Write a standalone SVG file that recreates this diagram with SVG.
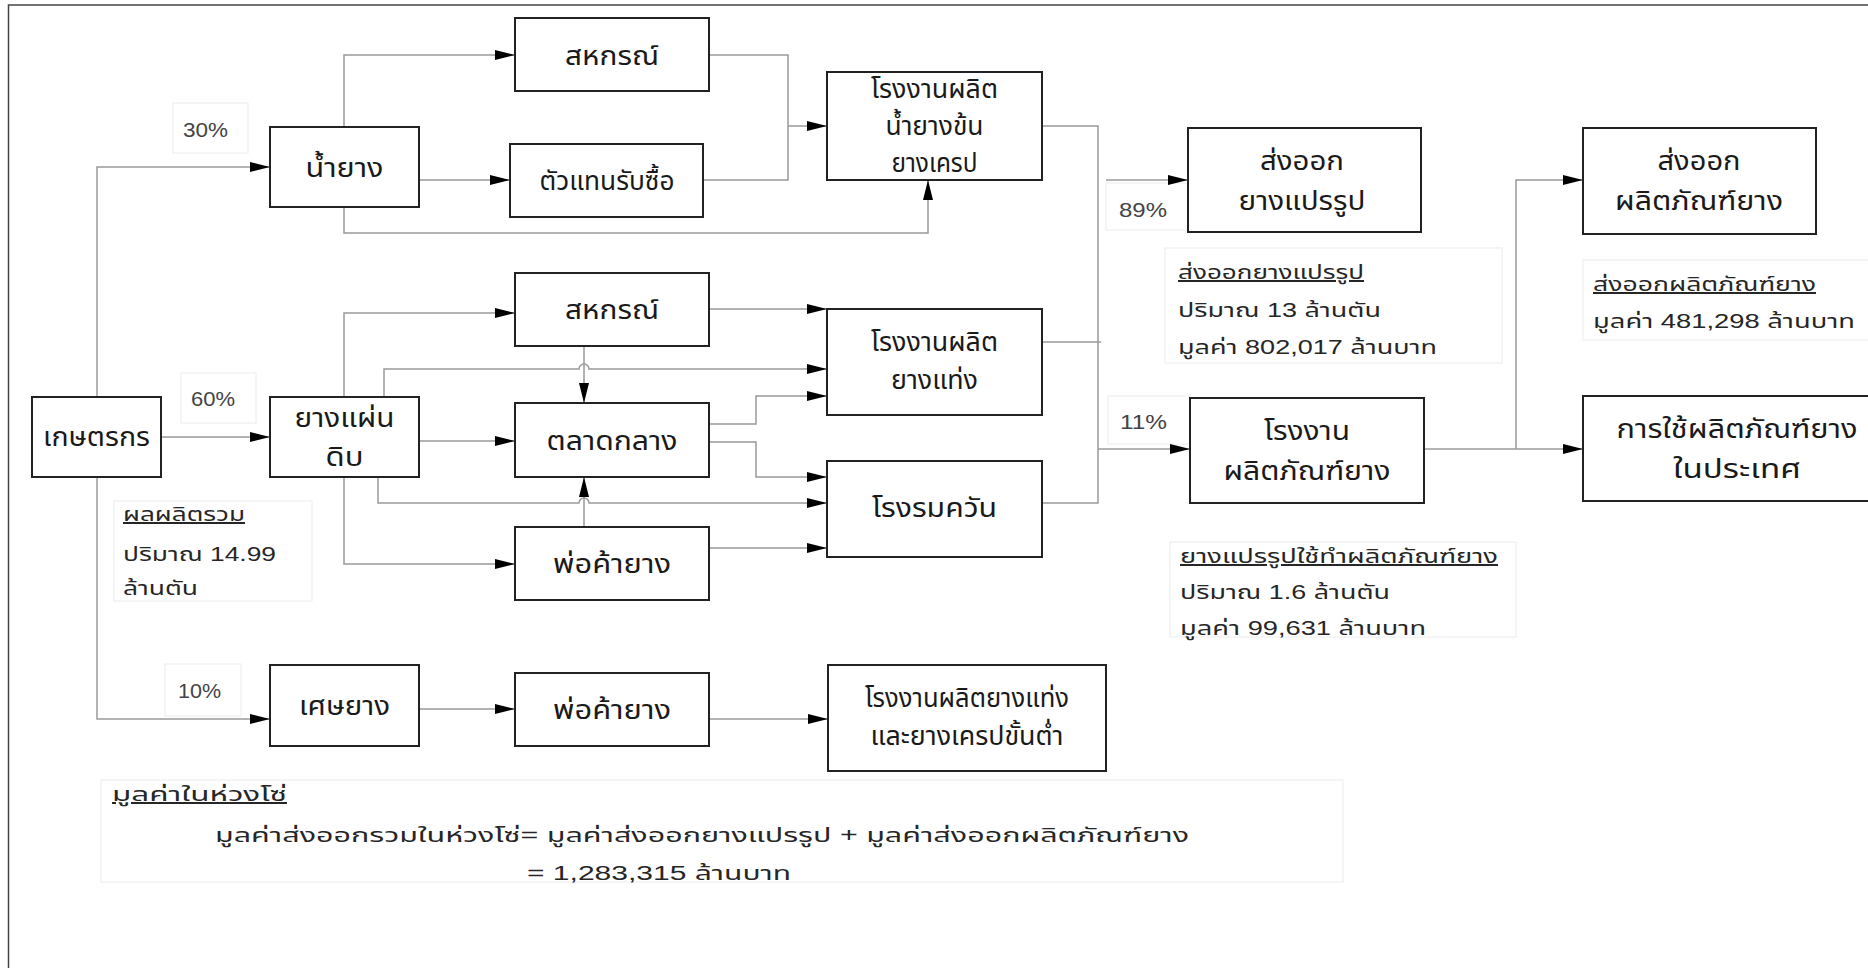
<svg xmlns="http://www.w3.org/2000/svg" width="1868" height="968" viewBox="0 0 1868 968">
<defs>
<marker id="ah" markerUnits="userSpaceOnUse" markerWidth="20" markerHeight="10" refX="20" refY="5" orient="auto">
<path d="M0,0 L20,5 L0,10 z" fill="#000"/>
</marker>
<style>
.box{fill:#fff;stroke:#222;stroke-width:2}
.lbl{fill:#fff;stroke:#ececec;stroke-width:1}
.c{fill:none;stroke:#9a9a9a;stroke-width:1.5}
.a{marker-end:url(#ah)}
.n{font-family:"Noto Sans Thai","Liberation Sans","Noto Sans",sans-serif;font-size:26px;fill:#1a1a1a;text-anchor:middle}
.t{font-family:"Liberation Sans","Noto Sans Thai","Noto Sans",sans-serif;font-size:20px;fill:#262626}
.p{font-family:"Liberation Sans","Noto Sans",sans-serif;font-size:20px;fill:#444}
.u{text-decoration:underline}
</style>
</defs>
<rect width="1868" height="968" fill="#fff"/>
<path d="M8.5,968 V5 H1868" fill="none" stroke="#444" stroke-width="1.5"/>

<g id="labels">
<g id="lbl30"><rect class="lbl" x="173" y="103" width="75" height="50"/><text class="p" x="183" y="137" textLength="45" lengthAdjust="spacingAndGlyphs">30%</text></g>
<g id="lbl60"><rect class="lbl" x="181" y="373" width="75" height="50"/><text class="p" x="191" y="406" textLength="44" lengthAdjust="spacingAndGlyphs">60%</text></g>
<g id="lbl10"><rect class="lbl" x="165" y="664" width="76" height="52"/><text class="p" x="178" y="698" textLength="43" lengthAdjust="spacingAndGlyphs">10%</text></g>
<g id="lbl89"><rect class="lbl" x="1106" y="183" width="82" height="47"/><text class="p" x="1119" y="217" textLength="48" lengthAdjust="spacingAndGlyphs">89%</text></g>
<g id="lbl11"><rect class="lbl" x="1108" y="396" width="82" height="48"/><text class="p" x="1120" y="429" textLength="47" lengthAdjust="spacingAndGlyphs">11%</text></g>
<g id="lblTotal"><rect class="lbl" x="114" y="501" width="198" height="100"/>
<text class="t u" x="123" y="521" textLength="122" lengthAdjust="spacingAndGlyphs">ผลผลิตรวม</text>
<text class="t" x="123" y="561" textLength="153" lengthAdjust="spacingAndGlyphs">ปริมาณ 14.99</text>
<text class="t" x="123" y="595" textLength="75" lengthAdjust="spacingAndGlyphs">ล้านตัน</text></g>
<g id="lblExp1"><rect class="lbl" x="1165" y="248" width="337" height="115"/>
<text class="t u" x="1178" y="279" textLength="186" lengthAdjust="spacingAndGlyphs">ส่งออกยางแปรรูป</text>
<text class="t" x="1178" y="317" textLength="203" lengthAdjust="spacingAndGlyphs">ปริมาณ 13 ล้านตัน</text>
<text class="t" x="1178" y="354" textLength="259" lengthAdjust="spacingAndGlyphs">มูลค่า 802,017 ล้านบาท</text></g>
<g id="lblExp2"><rect class="lbl" x="1583" y="260" width="300" height="80"/>
<text class="t u" x="1593" y="291" textLength="223" lengthAdjust="spacingAndGlyphs">ส่งออกผลิตภัณฑ์ยาง</text>
<text class="t" x="1593" y="328" textLength="262" lengthAdjust="spacingAndGlyphs">มูลค่า 481,298 ล้านบาท</text></g>
<g id="lblUse"><rect class="lbl" x="1170" y="542" width="346" height="95"/>
<text class="t u" x="1180" y="563" textLength="318" lengthAdjust="spacingAndGlyphs">ยางแปรรูปใช้ทำผลิตภัณฑ์ยาง</text>
<text class="t" x="1180" y="599" textLength="210" lengthAdjust="spacingAndGlyphs">ปริมาณ 1.6 ล้านตัน</text>
<text class="t" x="1180" y="635" textLength="246" lengthAdjust="spacingAndGlyphs">มูลค่า 99,631 ล้านบาท</text></g>
<g id="lblChain"><rect class="lbl" x="101" y="780" width="1242" height="102"/>
<text class="t u" x="112" y="801" textLength="175" lengthAdjust="spacingAndGlyphs">มูลค่าในห่วงโซ่</text>
<text class="t" x="215" y="842" textLength="974" lengthAdjust="spacingAndGlyphs">มูลค่าส่งออกรวมในห่วงโซ่= มูลค่าส่งออกยางแปรรูป + มูลค่าส่งออกผลิตภัณฑ์ยาง</text>
<text class="t" x="527" y="880" textLength="264" lengthAdjust="spacingAndGlyphs">= 1,283,315 ล้านบาท</text></g>
</g>

<g id="connectors">
<path class="c a" d="M97,397 V167 H270"/>
<path class="c a" d="M161,437 H270"/>
<path class="c a" d="M97,477 V719 H270"/>
<path class="c a" d="M344,127 V55 H515"/>
<path class="c a" d="M419,180 H510"/>
<path class="c a" d="M344,207 V233 H928 V180"/>
<path class="c" d="M709,55 H788 V180 H703"/>
<path class="c a" d="M788,126 H827"/>
<path class="c" d="M1042,126 H1098 V503 H1042"/>
<path class="c" d="M1037,342 H1101"/>
<path class="c a" d="M1106,180 H1188"/>
<path class="c a" d="M1098,449 H1190"/>
<path class="c a" d="M344,397 V313 H515"/>
<path class="c a" d="M384,397 V369 H579 A5,5 0 0 1 589,369 H827"/>
<path class="c a" d="M419,441 H515"/>
<path class="c a" d="M378,477 V503 H579 A5,5 0 0 1 589,503 H827"/>
<path class="c a" d="M344,477 V564 H515"/>
<path class="c a" d="M709,309 H827"/>
<path class="c a" d="M584,346 V403"/>
<path class="c a" d="M709,424 H756 V396 H827"/>
<path class="c a" d="M709,442 H756 V477 H827"/>
<path class="c a" d="M584,527 V477"/>
<path class="c a" d="M709,548 H827"/>
<path class="c a" d="M419,709 H515"/>
<path class="c a" d="M709,719 H828"/>
<path class="c a" d="M1424,449 H1583"/>
<path class="c a" d="M1516,449 V180 H1583"/>
</g>

<g id="n-farmer"><rect class="box" x="32" y="397" width="129" height="80"/><text class="n" x="96.5" y="446" textLength="107" lengthAdjust="spacingAndGlyphs">เกษตรกร</text></g>
<g id="n-latex"><rect class="box" x="270" y="127" width="149" height="80"/><text class="n" x="344.5" y="177" textLength="78" lengthAdjust="spacingAndGlyphs">น้ำยาง</text></g>
<g id="n-sheet"><rect class="box" x="270" y="397" width="149" height="80"/><text class="n" x="344.5" y="427" textLength="100" lengthAdjust="spacingAndGlyphs">ยางแผ่น</text><text class="n" x="344.5" y="466" textLength="38" lengthAdjust="spacingAndGlyphs">ดิบ</text></g>
<g id="n-scrap"><rect class="box" x="270" y="665" width="149" height="81"/><text class="n" x="344.5" y="715" textLength="91" lengthAdjust="spacingAndGlyphs">เศษยาง</text></g>
<g id="n-coop1"><rect class="box" x="515" y="18" width="194" height="73"/><text class="n" x="612" y="65" textLength="94" lengthAdjust="spacingAndGlyphs">สหกรณ์</text></g>
<g id="n-agent"><rect class="box" x="510" y="144" width="193" height="73"/><text class="n" x="607" y="190" textLength="135" lengthAdjust="spacingAndGlyphs">ตัวแทนรับซื้อ</text></g>
<g id="n-conc"><rect class="box" x="827" y="72" width="215" height="108"/><text class="n" x="934.5" y="98" textLength="127" lengthAdjust="spacingAndGlyphs">โรงงานผลิต</text><text class="n" x="934.5" y="135" textLength="98" lengthAdjust="spacingAndGlyphs">น้ำยางข้น</text><text class="n" x="934.5" y="172" textLength="86" lengthAdjust="spacingAndGlyphs">ยางเครป</text></g>
<g id="n-coop2"><rect class="box" x="515" y="273" width="194" height="73"/><text class="n" x="612" y="319" textLength="94" lengthAdjust="spacingAndGlyphs">สหกรณ์</text></g>
<g id="n-market"><rect class="box" x="515" y="403" width="194" height="74"/><text class="n" x="612" y="450" textLength="131" lengthAdjust="spacingAndGlyphs">ตลาดกลาง</text></g>
<g id="n-trader1"><rect class="box" x="515" y="527" width="194" height="73"/><text class="n" x="612" y="573" textLength="118" lengthAdjust="spacingAndGlyphs">พ่อค้ายาง</text></g>
<g id="n-block"><rect class="box" x="827" y="309" width="215" height="106"/><text class="n" x="934.5" y="351" textLength="127" lengthAdjust="spacingAndGlyphs">โรงงานผลิต</text><text class="n" x="934.5" y="389" textLength="87" lengthAdjust="spacingAndGlyphs">ยางแท่ง</text></g>
<g id="n-smoke"><rect class="box" x="827" y="461" width="215" height="96"/><text class="n" x="934.5" y="517" textLength="125" lengthAdjust="spacingAndGlyphs">โรงรมควัน</text></g>
<g id="n-trader2"><rect class="box" x="515" y="673" width="194" height="73"/><text class="n" x="612" y="719" textLength="118" lengthAdjust="spacingAndGlyphs">พ่อค้ายาง</text></g>
<g id="n-lowgrade"><rect class="box" x="828" y="665" width="278" height="106"/><text class="n" x="967" y="707" textLength="204" lengthAdjust="spacingAndGlyphs">โรงงานผลิตยางแท่ง</text><text class="n" x="967" y="745" textLength="193" lengthAdjust="spacingAndGlyphs">และยางเครปขั้นต่ำ</text></g>
<g id="n-exp1"><rect class="box" x="1188" y="128" width="233" height="104"/><text class="n" x="1302" y="170" textLength="84" lengthAdjust="spacingAndGlyphs">ส่งออก</text><text class="n" x="1302" y="210" textLength="127" lengthAdjust="spacingAndGlyphs">ยางแปรรูป</text></g>
<g id="n-factory"><rect class="box" x="1190" y="398" width="234" height="105"/><text class="n" x="1307" y="440" textLength="86" lengthAdjust="spacingAndGlyphs">โรงงาน</text><text class="n" x="1307" y="480" textLength="167" lengthAdjust="spacingAndGlyphs">ผลิตภัณฑ์ยาง</text></g>
<g id="n-exp2"><rect class="box" x="1583" y="128" width="233" height="106"/><text class="n" x="1699" y="170" textLength="83" lengthAdjust="spacingAndGlyphs">ส่งออก</text><text class="n" x="1699" y="210" textLength="168" lengthAdjust="spacingAndGlyphs">ผลิตภัณฑ์ยาง</text></g>
<g id="n-domestic"><rect class="box" x="1583" y="396" width="310" height="105"/><text class="n" x="1737" y="438" textLength="241" lengthAdjust="spacingAndGlyphs">การใช้ผลิตภัณฑ์ยาง</text><text class="n" x="1737" y="478" textLength="128" lengthAdjust="spacingAndGlyphs">ในประเทศ</text></g>
</svg>
